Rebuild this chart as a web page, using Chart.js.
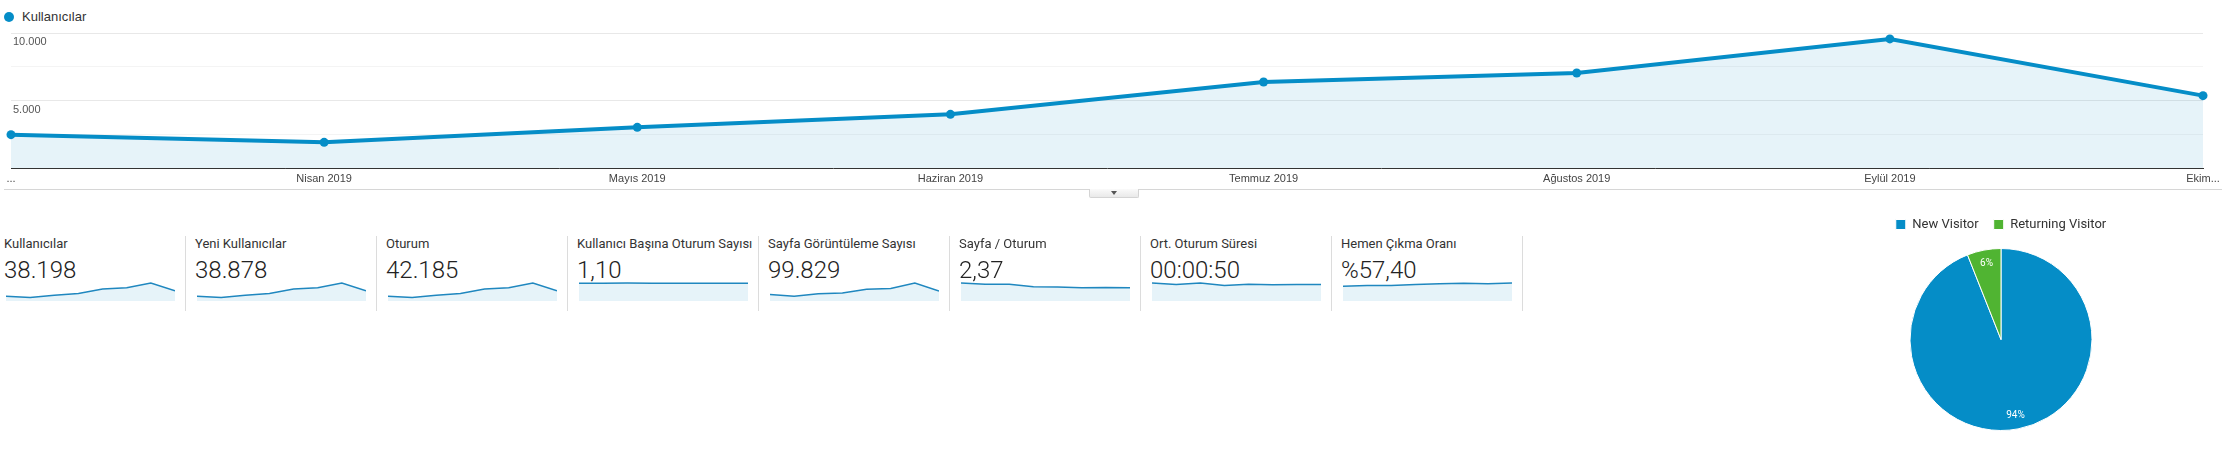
<!DOCTYPE html>
<html lang="tr">
<head>
<meta charset="utf-8">
<title>Kullanıcılar</title>
<script src="https://cdn.jsdelivr.net/npm/chart.js@4.4.1/dist/chart.umd.min.js"></script>
<style>
    html, body { margin: 0; padding: 0; background: #fff; }
    body { position: relative; width: 2228px; height: 450px; overflow: hidden; font-family: Roboto, Arial, sans-serif; color: #333; }
    .abs { position: absolute; }
    #legendDot { left: 4px; top: 12px; width: 10px; height: 10px; border-radius: 50%; background: #058dc7; }
    #legendText { left: 22px; top: 9px; font: 13px "Liberation Sans", Arial, sans-serif; line-height: 16px; color: #333; }
    #mainWrap { left: 0; top: 0; width: 2228px; height: 200px; }
    #rule { left: 4px; top: 189px; width: 2218px; height: 1px; background: #d6d6d6; }
    #toggle { left: 1089px; top: 189px; width: 48px; height: 8px; border: 1px solid #d4d4d4; border-top: none;
              border-radius: 0 0 2px 2px; background: linear-gradient(#fafafa, #e9e9e9); }
    #toggle .arrow { position: absolute; left: 21px; top: 2px; width: 0; height: 0;
              border-left: 3.5px solid transparent; border-right: 3.5px solid transparent; border-top: 4px solid #555; }
    .kpi-title { font-size: 13px; line-height: 15px; color: #333; white-space: nowrap; }
    .kpi-value { font-size: 24px; line-height: 28px; font-weight: 300; color: #222; white-space: nowrap; }
    .kpi-sep { width: 1px; height: 75px; background: #dcdcdc; }
    .spark { width: 169px; height: 20px; }
    #pieWrap { left: 1880px; top: 203px; width: 242px; height: 247px; }
</style>
</head>
<body>
<div id="legendDot" class="abs"></div>
<div id="legendText" class="abs">Kullanıcılar</div>
<div id="mainWrap" class="abs"><canvas id="mainChart"></canvas></div>
<div id="rule" class="abs"></div>
<div id="toggle" class="abs"><div class="arrow"></div></div>
<div id="kpis"></div>
<div id="pieWrap" class="abs"><canvas id="pieChart"></canvas></div>

<script>
// --- Data ---
const months = ['...', 'Nisan 2019', 'Mayıs 2019', 'Haziran 2019', 'Temmuz 2019', 'Ağustos 2019', 'Eylül 2019', 'Ekim...'];
const users = [2470, 1900, 3010, 3975, 6370, 7040, 9560, 5360];
const yTicks = [5000, 10000];

const kpiTitles = ['Kullanıcılar', 'Yeni Kullanıcılar', 'Oturum', 'Kullanıcı Başına Oturum Sayısı',
    'Sayfa Görüntüleme Sayısı', 'Sayfa / Oturum', 'Ort. Oturum Süresi', 'Hemen Çıkma Oranı'];
const kpiValues = ['38.198', '38.878', '42.185', '1,10', '99.829', '2,37', '00:00:50', '%57,40'];

const sparkUsers = [2470, 1900, 3010, 3975, 6370, 7040, 9560, 5360];
const sparkNewUsers = [2510, 1930, 3060, 4040, 6480, 7170, 9730, 5460];
const sparkSessions = [2720, 2090, 3320, 4390, 7030, 7770, 10560, 5920];
const sparkSessionsPerUser = [1.10, 1.10, 1.11, 1.10, 1.10, 1.10, 1.10, 1.10];
const sparkPageviews = [8300, 6150, 9100, 10000, 14800, 15700, 22800, 12750];
const sparkPagesPerSession = [3.00, 2.78, 2.78, 2.37, 2.32, 2.20, 2.26, 2.20];
const sparkAvgDuration = [55, 50.5, 55, 47.5, 51.5, 49.5, 50.5, 50.5];
const sparkBounceRate = [49.3, 51.6, 51.6, 55.1, 57.3, 58.7, 57.3, 59.8];

const pieLabels = ['New Visitor', 'Returning Visitor'];
const pieValues = [94, 6];

// --- Helpers ---
const BLUE = '#058dc7';
const FILL = 'rgba(5, 141, 199, 0.1)';
const fmtThousands = v => String(v).replace(/\B(?=(\d{3})+(?!\d))/g, '.');

Chart.defaults.animation = false;
Chart.defaults.font.family = 'Roboto, Arial, sans-serif';
Chart.defaults.plugins.tooltip.enabled = false;

function createChart(canvasId, type, data, options, plugins) {
    const ctx = document.getElementById(canvasId);
    if (!ctx) return null;
    return new Chart(ctx.getContext('2d'), { type, data, options, plugins: plugins || [] });
}

// --- Main line chart ---
createChart('mainChart', 'line', {
    labels: months,
    datasets: [{
        label: 'Kullanıcılar',
        data: users,
        borderColor: BLUE,
        backgroundColor: FILL,
        borderWidth: 4,
        fill: 'origin',
        tension: 0,
        pointRadius: 4.5,
        pointBackgroundColor: BLUE,
        pointBorderWidth: 0,
        clip: false,
    }]
}, {
    responsive: true,
    maintainAspectRatio: false,
    layout: { padding: { left: 11, right: 25, top: 33, bottom: 0 } },
    plugins: { legend: { display: false } },
    scales: {
        x: {
            grid: { display: false, drawTicks: false },
            border: { display: true, color: '#333', width: 1 },
            ticks: {
                color: '#444', padding: 4, maxRotation: 0, autoSkip: false,
                font: { size: 11, family: '"Liberation Sans", Arial, sans-serif' }
            },
            afterFit: s => { s.height = 32; }
        },
        y: {
            min: 0, max: 10000,
            border: { display: false },
            grid: {
                drawTicks: false,
                color: c => c.tick.value === 0 ? 'rgba(0,0,0,0)' : (c.tick.value % 5000 === 0 ? '#e8e8e8' : '#f4f4f4')
            },
            ticks: {
                stepSize: 2500, mirror: true, padding: 2, labelOffset: 9, color: '#555',
                font: { size: 11, family: '"Liberation Sans", Arial, sans-serif' },
                callback: v => yTicks.includes(v) ? fmtThousands(v) : ''
            },
            afterFit: s => { s.width = 0; }
        }
    }
});

// --- KPI boxes with sparklines ---
const sparkSeries = [sparkUsers, sparkNewUsers, sparkSessions, sparkSessionsPerUser,
    sparkPageviews, sparkPagesPerSession, sparkAvgDuration, sparkBounceRate];
const kpiHost = document.getElementById('kpis');

kpiTitles.forEach((title, i) => {
    const left = 4 + 191 * i;
    kpiHost.insertAdjacentHTML('beforeend',
        `<div class="abs kpi-title" style="left:${left}px;top:236px">${title}</div>` +
        `<div class="abs kpi-value" style="left:${left}px;top:256px">${kpiValues[i]}</div>` +
        `<div class="abs spark" style="left:${left + 2}px;top:281px"><canvas id="spark${i}"></canvas></div>` +
        `<div class="abs kpi-sep" style="left:${left + 181}px;top:236px"></div>`);

    const series = sparkSeries[i];
    createChart('spark' + i, 'line', {
        labels: months,
        datasets: [{
            data: series,
            borderColor: '#1f87bf',
            backgroundColor: FILL,
            borderWidth: 1.5,
            fill: 'origin',
            tension: 0,
            pointRadius: 0,
            clip: false,
        }]
    }, {
        responsive: true,
        maintainAspectRatio: false,
        layout: { padding: { top: 2, left: 0, right: 0, bottom: 0 } },
        plugins: { legend: { display: false } },
        scales: {
            x: { display: false },
            y: { display: false, min: 0, max: Math.max(...series) }
        }
    });
});

// --- Pie chart ---
const pieLabelPlugin = {
    id: 'pieLabels',
    afterDatasetsDraw(chart) {
        const ctx = chart.ctx;
        const total = pieValues.reduce((a, b) => a + b, 0);
        ctx.save();
        ctx.fillStyle = '#fff';
        ctx.font = '10px Roboto, Arial, sans-serif';
        ctx.textAlign = 'center';
        ctx.textBaseline = 'middle';
        chart.getDatasetMeta(0).data.forEach((arc, i) => {
            const { x, y, startAngle, endAngle, outerRadius } =
                arc.getProps(['x', 'y', 'startAngle', 'endAngle', 'outerRadius'], true);
            const mid = (startAngle + endAngle) / 2;
            const r = outerRadius * 0.85;
            ctx.fillText(Math.round(pieValues[i] / total * 100) + '%', x + Math.cos(mid) * r, y + Math.sin(mid) * r);
        });
        ctx.restore();
    }
};

createChart('pieChart', 'pie', {
    labels: pieLabels,
    datasets: [{
        data: pieValues,
        backgroundColor: [BLUE, '#50b432'],
        borderColor: '#fff',
        borderWidth: 1,
        hoverOffset: 0,
        radius: 91,
    }]
}, {
    responsive: true,
    maintainAspectRatio: false,
    layout: { padding: { bottom: 12 } },
    plugins: {
        legend: {
            position: 'top',
            labels: { boxWidth: 10, boxHeight: 10, padding: 15, color: '#333', font: { size: 13 } }
        }
    }
}, [pieLabelPlugin]);
</script>
</body>
</html>
